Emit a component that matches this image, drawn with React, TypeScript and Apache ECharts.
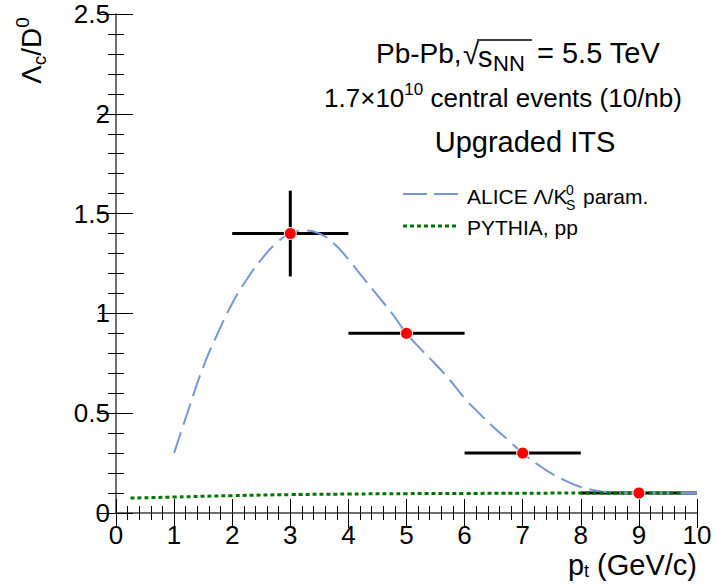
import React, { useEffect, useRef } from "react";
import * as echarts from "echarts";

// Data points (Lambda_c / D0 ratio)
const ptCenters = [3, 5, 7, 9];
const ratioValues = [1.4, 0.9, 0.3, 0.1];
const ptErrors = [1, 1, 1, 1];
const ratioErrors = [0.215, 0, 0, 0];

// ALICE Lambda/K0S parametrisation
const aliceX = [1, 1.25, 1.5, 1.75, 2, 2.25, 2.5, 2.75, 3, 3.25, 3.5, 3.75, 4, 4.25, 4.5, 4.75, 5, 5.25, 5.5, 5.75, 6, 6.25, 6.5, 6.75, 7, 7.25, 7.5, 7.75, 8, 8.25, 8.5, 8.75, 9, 9.5, 10];
const aliceY = [0.3, 0.52, 0.73, 0.9, 1.05, 1.17, 1.27, 1.35, 1.4, 1.415, 1.4, 1.35, 1.27, 1.18, 1.09, 1.0, 0.9, 0.82, 0.745, 0.665, 0.575, 0.5, 0.43, 0.365, 0.3, 0.245, 0.197, 0.16, 0.13, 0.113, 0.103, 0.1, 0.1, 0.1, 0.1];

// PYTHIA pp
const pythiaX = [0.25, 1, 2, 3, 4, 5, 6, 7, 8, 9, 9.75];
const pythiaY = [0.075, 0.08, 0.087, 0.092, 0.095, 0.097, 0.098, 0.099, 0.1, 0.1, 0.1];

const xTicks = { min: 0, max: 10, interval: 1 };
const yTicks = { min: 0, max: 2.5, interval: 0.5 };

const FONT = "'Liberation Sans', Arial, Helvetica, sans-serif";

export default function App() {
  const ref = useRef<HTMLDivElement>(null);
  useEffect(() => {
    if (!ref.current) return;
    const chart = echarts.init(ref.current, undefined, { renderer: "svg" });

    const axisLine = { show: true, lineStyle: { color: "#666", width: 1.5 } };
    const mkX = (pos: "bottom" | "top", labels: boolean) => ({
      type: "value",
      position: pos,
      min: xTicks.min,
      max: xTicks.max,
      interval: xTicks.interval,
      axisLine,
      axisTick: { show: true, inside: true, length: pos === "top" ? 15 : 14, lineStyle: { color: "#000", width: 1 } },
      minorTick: { show: true, splitNumber: 5, length: 7, lineStyle: { color: "#000", width: 1 } },
      axisLabel: { show: labels, color: "#000", fontSize: 26, lineHeight: 26, fontFamily: FONT, margin: 9 },
      splitLine: { show: false },
    });
    const mkY = (pos: "left" | "right", labels: boolean) => ({
      type: "value",
      position: pos,
      min: yTicks.min,
      max: yTicks.max,
      interval: yTicks.interval,
      axisLine,
      axisTick: { show: true, inside: true, length: 17, lineStyle: { color: "#000", width: 1 } },
      minorTick: { show: true, splitNumber: 5, length: 8, lineStyle: { color: "#000", width: 1 } },
      axisLabel: { show: labels, color: "#000", fontSize: 26, fontFamily: FONT, margin: 6 },
      splitLine: { show: false },
    });

    const pointData = ptCenters.map((x, i) => [x, ratioValues[i], ptErrors[i], ratioErrors[i]]);

    const option: any = {
      animation: false,
      grid: { left: 116, right: 19, top: 14, bottom: 71 },
      xAxis: [mkX("bottom", true), mkX("top", false)],
      yAxis: [mkY("left", true), mkY("right", false)],
      series: [
        {
          type: "custom",
          z: 1,
          data: pointData,
          encode: { x: 0, y: 1 },
          renderItem: (params: any, api: any) => {
            const x = api.value(0);
            const y = api.value(1);
            const xe = api.value(2);
            const ye = api.value(3);
            const l = api.coord([x - xe, y]);
            const r = api.coord([x + xe, y]);
            const children: any[] = [
              { type: "line", shape: { x1: l[0], y1: l[1], x2: r[0], y2: r[1] }, style: { stroke: "#000", lineWidth: 3 } },
            ];
            if (ye > 0) {
              const t = api.coord([x, y + ye]);
              const b = api.coord([x, y - ye]);
              children.push({ type: "line", shape: { x1: t[0], y1: t[1], x2: b[0], y2: b[1] }, style: { stroke: "#000", lineWidth: 3 } });
            }
            return { type: "group", children };
          },
        },
        {
          type: "line",
          z: 2,
          data: aliceX.map((x, i) => [x, aliceY[i]]),
          showSymbol: false,
          smooth: true,
          lineStyle: { color: "#7597d8", width: 2, type: [22, 8] },
        },
        {
          type: "line",
          z: 3,
          data: pythiaX.map((x, i) => [x, pythiaY[i]]),
          showSymbol: false,
          smooth: true,
          lineStyle: { color: "#007400", width: 3, type: [4, 3] },
        },
        {
          type: "scatter",
          z: 4,
          data: ptCenters.map((x, i) => [x, ratioValues[i]]),
          symbol: "circle",
          symbolSize: 12,
          itemStyle: { color: "#ff0000", borderColor: "#fff", borderWidth: 1, opacity: 1 },
        },
      ],
      graphic: [
        // Header text lines
        { type: "text", x: 376, y: 53, style: { text: "Pb-Pb,", font: `28px ${FONT}`, fill: "#000", verticalAlign: "middle", align: "left" } },
        { type: "text", x: 463, y: 54, style: { text: "√", font: `29px ${FONT}`, fill: "#000", verticalAlign: "middle", align: "left" } },
        { type: "line", shape: { x1: 477, y1: 40, x2: 532, y2: 40 }, style: { stroke: "#000", lineWidth: 1.5 } },
        { type: "text", x: 478, y: 57, style: { text: "s", font: `29px ${FONT}`, fill: "#000", verticalAlign: "middle", align: "left" } },
        { type: "text", x: 493, y: 63, style: { text: "NN", font: `22px ${FONT}`, fill: "#000", verticalAlign: "middle", align: "left" } },
        { type: "text", x: 537, y: 53, style: { text: "= 5.5 TeV", font: `29px ${FONT}`, fill: "#000", verticalAlign: "middle", align: "left" } },
        {
          type: "text",
          x: 503,
          y: 96,
          style: {
            text: "{m|1.7×10}{s|10}{m| central events (10/nb)}",
            align: "center",
            verticalAlign: "middle",
            fill: "#000",
            rich: {
              m: { fontSize: 26, fontFamily: FONT, lineHeight: 30, verticalAlign: "bottom" },
              s: { fontSize: 17, fontFamily: FONT, lineHeight: 30, verticalAlign: "top" },
            },
          },
        },
        { type: "text", x: 525, y: 142, style: { text: "Upgraded ITS", font: `29px ${FONT}`, fill: "#000", verticalAlign: "middle", align: "center" } },
        // Legend
        { type: "line", shape: { x1: 403, y1: 194, x2: 458, y2: 194 }, style: { stroke: "#7597d8", lineWidth: 2, lineDash: [24, 7] } },
        { type: "text", x: 467, y: 196, style: { text: "ALICE Λ/K", font: `21px ${FONT}`, fill: "#000", verticalAlign: "middle", align: "left" } },
        { type: "text", x: 566, y: 190, style: { text: "0", font: `14px ${FONT}`, fill: "#000", verticalAlign: "middle", align: "left" } },
        { type: "text", x: 566, y: 205, style: { text: "S", font: `14px ${FONT}`, fill: "#000", verticalAlign: "middle", align: "left" } },
        { type: "text", x: 583, y: 196, style: { text: "param.", font: `21px ${FONT}`, fill: "#000", verticalAlign: "middle", align: "left" } },
        { type: "line", shape: { x1: 403, y1: 226, x2: 458, y2: 226 }, style: { stroke: "#007400", lineWidth: 3, lineDash: [4, 3] } },
        { type: "text", x: 467, y: 227, style: { text: "PYTHIA, pp", font: `21px ${FONT}`, fill: "#000", verticalAlign: "middle", align: "left" } },
        // Y axis title (rotated)
        {
          type: "text",
          x: 31,
          y: 84,
          rotation: Math.PI / 2,
          style: {
            text: "{m|Λ}{b|c}{m|/D}{t|0}",
            align: "left",
            verticalAlign: "middle",
            fill: "#000",
            rich: {
              m: { fontSize: 28, fontFamily: FONT, lineHeight: 36 },
              b: { fontSize: 19, fontFamily: FONT, lineHeight: 36, verticalAlign: "bottom" },
              t: { fontSize: 19, fontFamily: FONT, lineHeight: 36, verticalAlign: "top" },
            },
          },
        },
        // X axis title
        {
          type: "text",
          x: 697,
          y: 565,
          style: {
            text: "{m|p}{b|t}{m| (GeV/c)}",
            align: "right",
            verticalAlign: "middle",
            fill: "#000",
            rich: {
              m: { fontSize: 29, fontFamily: FONT, lineHeight: 30 },
              b: { fontSize: 18, fontFamily: FONT, lineHeight: 30, verticalAlign: "bottom" },
            },
          },
        },
      ],
    };
    chart.setOption(option);
    return () => chart.dispose();
  }, []);
  return (
    <div
      ref={ref}
      style={{ position: "fixed", left: 0, top: 0, width: 716, height: 584, background: "#fff" }}
    />
  );
}
